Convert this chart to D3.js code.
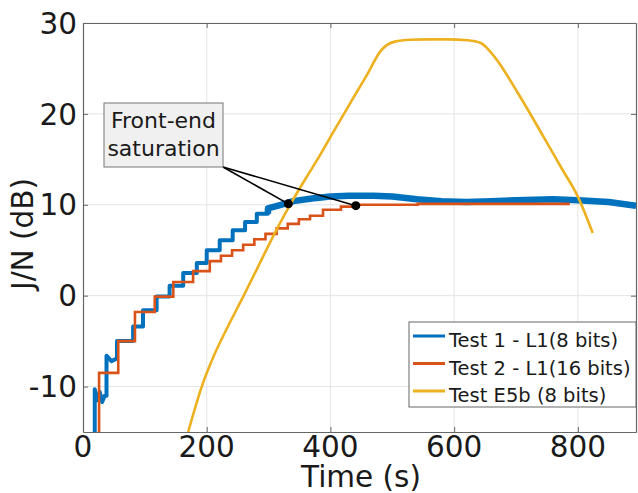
<!DOCTYPE html>
<html>
<head>
<meta charset="utf-8">
<script src="https://cdn.jsdelivr.net/npm/d3@7"></script>
<style>
  body { margin: 0; background: #fff; }
  text { font-family: "DejaVu Sans", sans-serif; }
</style>
</head>
<body>
<div id="div1"></div>
<script>

// Test 1 - L1 (8 bits): staircase then a thick noisy plateau
let blueTime = [19, 19, 23, 27, 31, 35, 38, 38, 46, 55, 55, 81, 81, 97, 97, 119, 119, 140, 140,
                162, 162, 184, 184, 200, 200, 221, 221, 242, 242, 262, 262, 281, 281, 299, 299,
                320, 340, 370, 400, 430, 470, 500, 540, 580, 620, 660, 700, 760, 800, 850, 894];
let blueValue = [-15, -10.3, -11.5, -10.6, -11.7, -11.0, -11.0, -6.6, -7.2, -6.9, -5.0, -5.0, -3.4, -3.4, -1.6,
                 -1.6, -0.1, -0.1, 1.1, 1.1, 2.5, 2.5, 3.6, 3.6, 5.0, 5.0, 6.1, 6.1, 7.2, 7.2, 8.1,
                 8.1, 9.0, 9.0, 9.6, 10.0, 10.4, 10.7, 10.9, 11.0, 11.0, 10.9, 10.6, 10.4, 10.3,
                 10.4, 10.5, 10.6, 10.5, 10.3, 9.9];

// Test 2 - L1 (16 bits): step times and the level after each step
let orangeTime = [26, 26, 57, 84, 116, 146, 178, 205, 223, 241, 259, 277, 295, 313, 331, 349,
                  367, 388, 417, 444, 541, 787];
let orangeValue = [-15, -8.5, -5.0, -1.8, -0.1, 1.5, 2.7, 3.8, 4.4, 5.0, 5.6, 6.2, 6.8, 7.4,
                   7.9, 8.4, 8.8, 9.45, 9.8, 10.0, 10.1, 10.1];

// Test E5b (8 bits)
let yellowTime = [170, 192, 211, 232, 259, 281, 299, 334, 361, 380, 402, 433, 460, 481, 504,
                  530, 557, 590, 622, 643, 665, 703, 746, 773, 800, 824];
let yellowValue = [-15, -10.0, -6.7, -3.7, -0.1, 2.9, 5.4, 9.9, 13.0, 15.1, 17.7, 21.3, 24.4,
                   26.9, 27.95, 28.15, 28.2, 28.2, 28.1, 27.8, 26.3, 22.3, 17.3, 14.1, 10.9, 6.9];

let xTicks = [0, 200, 400, 600, 800];
let yTicks = [-10, 0, 10, 20, 30];

let legendNames = ["Test 1 - L1(8 bits)", "Test 2 - L1(16 bits)", "Test E5b (8 bits)"];
let seriesColors = ["#0072BD", "#D95319", "#EDB120"];

// annotation points (time, J/N)
let markTime = [332, 441];
let markValue = [10.1, 9.9];
let noteLines = ["Front-end", "saturation"];


let svg = d3.select("#div1").append("svg")
svg.attr("width", 638)
svg.attr("height", 493)

let pLeft = 83, pRight = 636, pTop = 23, pBottom = 432;

let x = d3.scaleLinear().domain([0, 894]).range([pLeft, pRight]);
let y = d3.scaleLinear().domain([-15, 30]).range([pBottom, pTop]);

svg.append("clipPath").attr("id", "plotclip")
   .append("rect")
   .attr("x", pLeft).attr("y", pTop)
   .attr("width", pRight - pLeft).attr("height", pBottom - pTop);

// grid
svg.append("g").selectAll("line")
   .data(xTicks.slice(1))
   .enter().append("line")
   .attr("x1", d => x(d)).attr("x2", d => x(d))
   .attr("y1", pTop).attr("y2", pBottom)
   .style("stroke", "#e4e4e4");

svg.append("g").selectAll("line")
   .data(yTicks)
   .enter().append("line")
   .attr("x1", pLeft).attr("x2", pRight)
   .attr("y1", d => y(d)).attr("y2", d => y(d))
   .style("stroke", "#e4e4e4");

// axes, with inward ticks on all four sides
let xAxisB = d3.axisBottom(x).tickValues(xTicks).tickSizeInner(-5).tickSizeOuter(0).tickFormat("");
let xAxisT = d3.axisTop(x).tickValues(xTicks).tickSizeInner(-5).tickSizeOuter(0).tickFormat("");
let yAxisL = d3.axisLeft(y).tickValues(yTicks).tickSizeInner(-5).tickSizeOuter(0).tickFormat("");
let yAxisR = d3.axisRight(y).tickValues(yTicks).tickSizeInner(-5).tickSizeOuter(0).tickFormat("");

svg.append("g").attr("transform", `translate(0,${pBottom})`).call(xAxisB).call(styleAxis);
svg.append("g").attr("transform", `translate(0,${pTop})`).call(xAxisT).call(styleAxis);
svg.append("g").attr("transform", `translate(${pLeft},0)`).call(yAxisL).call(styleAxis);
svg.append("g").attr("transform", `translate(${pRight},0)`).call(yAxisR).call(styleAxis);

function styleAxis(g) {
  g.select(".domain").style("stroke", "#666").style("stroke-width", 1.2);
  g.selectAll(".tick line").style("stroke", "#666");
}

// tick labels
svg.append("g").selectAll("text")
   .data(xTicks)
   .enter().append("text")
   .attr("x", d => x(d))
   .attr("y", 457)
   .attr("text-anchor", "middle")
   .style("font-size", "29.5px")
   .style("fill", "#1a1a1a")
   .text(d => d);

svg.append("g").selectAll("text")
   .data(yTicks)
   .enter().append("text")
   .attr("x", 77)
   .attr("y", d => y(d) + 10.7)
   .attr("text-anchor", "end")
   .style("font-size", "29.5px")
   .style("fill", "#1a1a1a")
   .text(d => d);

// axis titles
svg.append("text")
   .attr("x", 361).attr("y", 487)
   .attr("text-anchor", "middle")
   .style("font-size", "29.5px")
   .style("fill", "#1a1a1a")
   .text("Time (s)");

svg.append("text")
   .attr("transform", "translate(33,234) rotate(-90)")
   .attr("text-anchor", "middle")
   .style("font-size", "29.5px")
   .style("fill", "#1a1a1a")
   .text("J/N (dB)");

// series
let line = d3.line()
   .x(d => x(d[0]))
   .y(d => y(d[1]));

let blueData = blueTime.map((t, i) => [t, blueValue[i]]);
let yellowData = yellowTime.map((t, i) => [t, yellowValue[i]]);
let orangeData = orangeTime.map((t, i) => [t, orangeValue[i]]);

let plot = svg.append("g").attr("clip-path", "url(#plotclip)");

// blue: thinner on the staircase, wide noisy band once it saturates
plot.append("path")
   .attr("d", line(blueData))
   .style("fill", "none")
   .style("stroke", seriesColors[0])
   .style("stroke-width", 4)
   .style("stroke-linejoin", "round");

plot.append("path")
   .attr("d", line(blueData.filter(d => d[0] >= 299)))
   .style("fill", "none")
   .style("stroke", seriesColors[0])
   .style("stroke-width", 6.5)
   .style("stroke-linejoin", "round");

plot.append("path")
   .attr("d", line.curve(d3.curveStepAfter)(orangeData))
   .style("fill", "none")
   .style("stroke", seriesColors[1])
   .style("stroke-width", 2.6);

line.curve(d3.curveMonotoneX);

plot.append("path")
   .attr("d", line(yellowData))
   .style("fill", "none")
   .style("stroke", seriesColors[2])
   .style("stroke-width", 2.6);

// annotation: box, two arrows, and dots
let boxX = 104, boxY = 103, boxW = 119, boxH = 64;

svg.append("g").selectAll("line")
   .data(markTime)
   .enter().append("line")
   .attr("x1", boxX + boxW).attr("y1", boxY + boxH)
   .attr("x2", d => x(d))
   .attr("y2", (d, i) => y(markValue[i]))
   .style("stroke", "#000")
   .style("stroke-width", 1.6);

svg.append("g").selectAll("circle")
   .data(markTime)
   .enter().append("circle")
   .attr("cx", d => x(d))
   .attr("cy", (d, i) => y(markValue[i]))
   .attr("r", 4.5)
   .style("fill", "#000");

svg.append("rect")
   .attr("x", boxX).attr("y", boxY)
   .attr("width", boxW).attr("height", boxH)
   .style("fill", "#f0f0f0")
   .style("stroke", "#777")
   .style("stroke-width", 1);

svg.append("g").selectAll("text")
   .data(noteLines)
   .enter().append("text")
   .attr("x", boxX + boxW / 2)
   .attr("y", (d, i) => 128 + i * 28)
   .attr("text-anchor", "middle")
   .style("font-size", "22px")
   .style("fill", "#1a1a1a")
   .text(d => d);

// legend
let legend = svg.append("g");

legend.append("rect")
   .attr("x", 409).attr("y", 322)
   .attr("width", 227).attr("height", 85)
   .style("fill", "#fff")
   .style("stroke", "#666")
   .style("stroke-width", 1);

let rows = legend.selectAll("g.row")
   .data(legendNames)
   .enter().append("g")
   .attr("class", "row")
   .attr("transform", (d, i) => `translate(0,${336 + i * 27.5})`);

rows.append("line")
   .attr("x1", 413).attr("x2", 445)
   .attr("y1", 0).attr("y2", 0)
   .style("stroke", (d, i) => seriesColors[i])
   .style("stroke-width", 3);

rows.append("text")
   .attr("x", 449)
   .attr("y", 11)
   .style("font-size", "19.5px")
   .style("fill", "#1a1a1a")
   .text(d => d);

</script>
</body>
</html>
